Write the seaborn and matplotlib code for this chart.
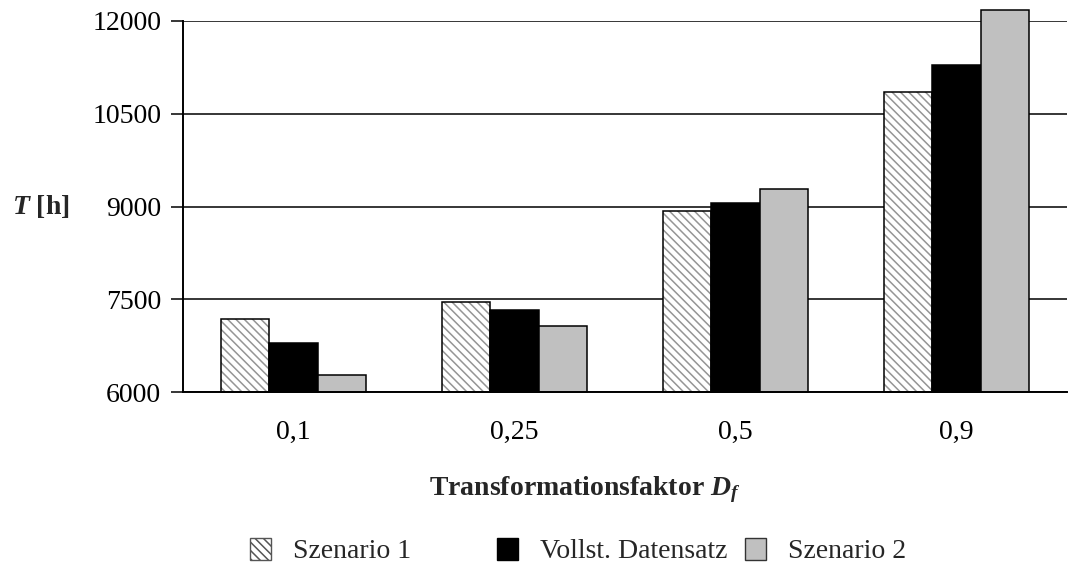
import numpy as np
import pandas as pd
import matplotlib
matplotlib.use("Agg")
import matplotlib.pyplot as plt
from matplotlib.patches import Patch, Rectangle
import seaborn as sns

# Data: operating time T [h] per transformation factor D_f
factors = ["0,1", "0,25", "0,5", "0,9"]
series_names = ["Szenario 1", "Vollst. Datensatz", "Szenario 2"]
szenario_1 = [7180, 7460, 8920, 10850]
vollst_datensatz = [6800, 7320, 9050, 11290]
szenario_2 = [6270, 7060, 9290, 12170]
y_ticks = [6000, 7500, 9000, 10500, 12000]

sns.set_theme(style="white")
plt.rcParams["font.family"] = ["Liberation Serif", "DejaVu Serif"]
plt.rcParams["mathtext.fontset"] = "custom"
plt.rcParams["mathtext.rm"] = "Liberation Serif"
plt.rcParams["mathtext.it"] = "Liberation Serif:italic"
plt.rcParams["mathtext.bf"] = "Liberation Serif:bold"
plt.rcParams["mathtext.bfit"] = "Liberation Serif:italic:bold"
plt.rcParams["hatch.linewidth"] = 1.1

rows = []
for name, values in zip(series_names, [szenario_1, vollst_datensatz, szenario_2]):
    for f, v in zip(factors, values):
        rows.append({"Faktor": f, "T": v, "Serie": name})
df = pd.DataFrame(rows)

colors = {"Szenario 1": "white", "Vollst. Datensatz": "black", "Szenario 2": "#c0c0c0"}
hatch = "\\\\\\\\"
hatch_color = "#959595"

fig = plt.figure(figsize=(10.69, 5.70), dpi=100)
ax = fig.add_axes([183 / 1069, 1 - 392 / 570, (1067 - 183) / 1069, (392 - 21) / 570])

sns.barplot(data=df, x="Faktor", y="T", hue="Serie", order=factors,
            hue_order=series_names, palette=colors, width=0.66, gap=0,
            edgecolor="black", linewidth=1.1, saturation=1, legend=False, ax=ax)

y0, y1 = y_ticks[0], y_ticks[-1]
ax.set_ylim(y0, y1)

# Bars start at the axis floor and may rise above the top gridline
for name, cont in zip(series_names, ax.containers):
    for bar in cont:
        top = bar.get_y() + bar.get_height()
        bar.set_y(y0)
        bar.set_height(top - y0)
        bar.set_clip_on(False)
        if name == "Szenario 1":
            bar.set_hatch(hatch)
            bar.set_edgecolor(hatch_color)
            bar.set_linewidth(0)
            ax.add_patch(Rectangle((bar.get_x(), y0), bar.get_width(), top - y0,
                                   fill=False, edgecolor="black", linewidth=1.1,
                                   clip_on=False, zorder=bar.get_zorder() + 0.1))

ax.set_yticks(y_ticks)
ax.yaxis.grid(True, color="black", linewidth=1.1)
ax.xaxis.grid(False)
ax.set_axisbelow(True)

for side in ["top", "right"]:
    ax.spines[side].set_visible(False)
for side in ["left", "bottom"]:
    ax.spines[side].set_color("black")
    ax.spines[side].set_linewidth(1.4)

ax.set_xticks(range(len(factors)))
ax.set_xticklabels(factors)
ax.set_xticks(np.arange(-0.5, len(factors), 1.0), minor=True)
ax.tick_params(axis="x", which="major", length=0, pad=20, labelsize=20, labelcolor="black")
ax.tick_params(axis="x", which="minor", length=14, width=1.1, color="black", direction="out")
ax.tick_params(axis="y", length=8.6, width=1.1, color="black", direction="out",
               pad=7, labelsize=20, labelcolor="black", left=True)
ax.set_xlabel("")
ax.set_ylabel("")

fig.text(585 / 1069, 1 - 495 / 570, r"Transformationsfaktor $\mathbfit{D}_{\mathbfit{f}}$",
         ha="center", va="baseline", fontsize=20, fontweight="bold")
fig.text(12 / 1069, 1 - 207 / 570, r"$\mathbfit{T}$ [h]", ha="left", va="center",
         fontsize=20, fontweight="bold")

# Legend entries laid out in equal-width slots
handles = [
    Patch(facecolor="white", edgecolor="#555555", hatch=hatch, linewidth=1.0),
    Patch(facecolor="black", edgecolor="black", linewidth=1.0),
    Patch(facecolor="#c0c0c0", edgecolor="#333333", linewidth=1.0),
]
slot_left = [250, 497, 745]
for h, label, xl in zip(handles, series_names, slot_left):
    fig.legend([h], [label], loc="center left", bbox_to_anchor=(xl / 1069, 1 - 551 / 570),
               frameon=False, fontsize=20, handlelength=0.75, handleheight=0.85,
               handletextpad=0.8, borderpad=0, borderaxespad=0)

fig.savefig("out.png", dpi=100)
